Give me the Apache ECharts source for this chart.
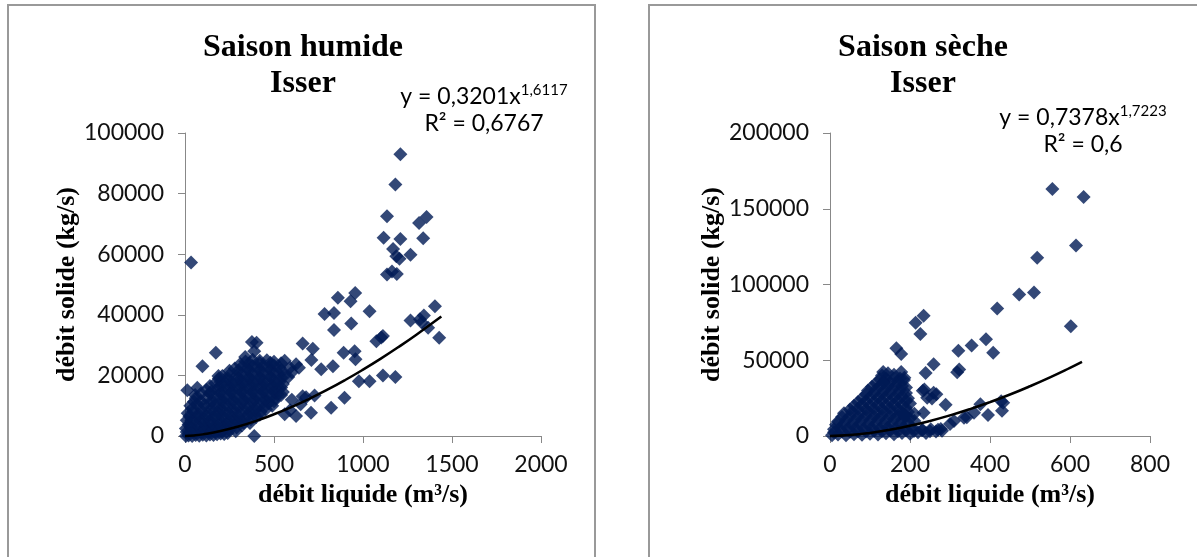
<!DOCTYPE html>
<html>
<head>
<meta charset="utf-8">
<title>Isser - débit solide / débit liquide</title>
<script src="https://cdn.jsdelivr.net/npm/echarts@6/dist/echarts.min.js"></script>
<style>
  html, body { margin: 0; padding: 0; background: #fff; }
  #chart { width: 1197px; height: 557px; }
</style>
</head>
<body>
<div id="chart"></div>
<script>
// Saison humide : [débit liquide (m3/s), débit solide (kg/s)]
var humideIsoles = [
  [1210, 93000], [1182, 83000], [1135, 72500], [1357, 72300], [1315, 70300],
  [1116, 65400], [1210, 65000], [1338, 65300], [1169, 61700], [1187, 59300],
  [1205, 58500], [1267, 59800], [1135, 53300], [1163, 54300], [1190, 53500],
  [34, 57300], [1404, 42800], [1267, 38100], [1320, 38500], [1342, 39800],
  [1366, 35700], [1330, 37500], [1428, 32400], [956, 47200], [930, 44500],
  [859, 45600], [784, 40300], [837, 40600], [1037, 41200], [934, 37100],
  [837, 35000], [953, 28000], [958, 25300], [891, 27500], [1075, 31300],
  [1112, 33000], [1103, 32500], [661, 30500], [718, 28800], [710, 25100],
  [765, 22000], [831, 23000], [977, 18100], [1037, 18100], [1112, 20000],
  [1182, 19500], [896, 12650], [821, 9360], [708, 7700], [728, 13400],
  [661, 13100], [173, 27500], [98, 23000], [188, 19800], [13, 15100],
  [69, 15900], [57, 13500], [338, 26100], [376, 31000], [402, 30800],
  [389, 28000], [389, 0], [624, 23700], [600, 21000], [640, 22500],
  [560, 24800], [580, 19500], [560, 7200], [624, 6600], [590, 8500],
  [650, 10500], [680, 12800], [600, 12000], [540, 13500]
];
var humideNuage = [
  [5, 0], [20, 200], [40, 0], [60, 300], [80, 100], [100, 400], [120, 200], [140, 500],
  [160, 300], [180, 600], [200, 800], [220, 700], [240, 1000],
  [10, 1300], [45, 1500], [90, 1400], [130, 1600], [170, 1500], [210, 1800], [250, 2000], [285, 1600],
  [5, 2500], [30, 3000], [55, 2200], [80, 2800], [105, 2500], [130, 3000], [155, 2600],
  [180, 3200], [205, 2900], [230, 3300], [260, 3500], [290, 2800], [320, 3500],
  [20, 3800], [65, 4000], [110, 3900], [150, 4100], [195, 4000], [240, 4300], [290, 4500],
  [330, 4400], [365, 4300],
  [10, 5200], [35, 5000], [60, 5500], [90, 5000], [115, 5400], [140, 5000], [170, 5600],
  [195, 5200], [225, 5700], [250, 5300], [280, 5800], [310, 5200], [340, 6000],
  [370, 5500], [400, 6300],
  [25, 6500], [70, 6400], [120, 6600], [165, 6500], [210, 6800], [260, 6700], [300, 6500],
  [355, 7000], [390, 7300], [420, 7000],
  [15, 7500], [45, 8000], [75, 7200], [100, 7800], [130, 7400], [160, 8000], [190, 7600],
  [215, 8200], [245, 7700], [275, 8300], [305, 7800], [335, 8400], [365, 7900],
  [395, 8600], [425, 8000], [455, 8800],
  [40, 9000], [90, 9000], [150, 9200], [200, 9100], [250, 9300], [300, 9200], [350, 9400],
  [400, 9500], [450, 9800], [490, 10000],
  [30, 10000], [70, 10500], [110, 10200], [140, 10600], [170, 10100], [200, 10700],
  [230, 10300], [260, 10900], [290, 10400], [320, 11000], [350, 10500], [380, 11100],
  [410, 10600], [440, 11200], [470, 10800], [500, 11500],
  [50, 11300], [90, 11500], [150, 11700], [210, 11800], [270, 11900], [330, 12000],
  [390, 12100], [450, 12200], [510, 12500],
  [60, 12500], [120, 12600], [160, 13000], [190, 12400], [220, 13100], [250, 12700],
  [280, 13300], [310, 12800], [340, 13400], [370, 12900], [400, 13500], [430, 13000],
  [460, 13600], [490, 13200], [520, 13800],
  [90, 14000], [140, 14200], [200, 14300], [260, 14400], [320, 14500], [380, 14600],
  [440, 14700], [500, 14800], [550, 14500],
  [120, 15200], [150, 14800], [180, 15400], [210, 15000], [240, 15600], [270, 15100],
  [300, 15700], [330, 15200], [360, 15800], [390, 15300], [420, 15900], [450, 15400],
  [480, 16000], [510, 15500], [540, 16000],
  [140, 16500], [200, 16700], [260, 16800], [320, 16900], [380, 17000], [440, 17000],
  [500, 17000], [550, 17200],
  [170, 17400], [200, 17800], [230, 17300], [260, 17900], [290, 17500], [320, 18000],
  [350, 17600], [380, 18100], [410, 17700], [440, 18200], [470, 17800], [500, 18300],
  [530, 17800],
  [190, 19000], [240, 19000], [300, 19200], [360, 19300], [420, 19300], [480, 19500],
  [540, 19200],
  [210, 19800], [250, 20200], [290, 19900], [320, 20400], [350, 20000], [380, 20500],
  [410, 20100], [440, 20600], [470, 20200], [500, 20800], [530, 20400], [560, 20000],
  [250, 21500], [300, 21600], [360, 21700], [420, 21800], [480, 21900], [540, 21800],
  [590, 22500],
  [280, 22300], [320, 22800], [350, 22400], [380, 23000], [410, 22500], [440, 23100],
  [470, 22700], [500, 23300], [530, 22600],
  [310, 23800], [360, 24000], [420, 24100], [480, 24200], [540, 24000],
  [340, 24600], [380, 25200], [420, 24800], [460, 25000], [500, 24500]
];
// courbe de tendance (y = 0,3201x^1,6117)
var humideTendX = [0, 50, 100, 200, 300, 400, 500, 600, 700, 800, 900, 1000, 1100, 1200, 1300, 1440];
var humideTendY = [0, 175, 536, 1636, 3147, 5003, 7166, 9613, 12323, 15283, 18478, 21900, 25535, 29380, 33430, 39400];

// Saison sèche
var secheIsoles = [
  [556, 163000], [634, 157700], [615, 125700], [518, 117700], [473, 93400],
  [510, 94800], [602, 72400], [418, 84100], [390, 63800], [354, 59800],
  [321, 56300], [408, 54900], [318, 42000], [323, 43900], [259, 47400],
  [239, 41600], [214, 74800], [234, 79400], [226, 67300], [166, 57900],
  [178, 54200], [133, 42300], [178, 42300], [185, 36900], [289, 20600],
  [376, 20900], [395, 13800], [428, 23000], [433, 22000], [430, 16700],
  [266, 27600], [232, 29900], [243, 25300], [255, 24800], [211, 14700],
  [187, 13500], [231, 4200], [270, 4200], [211, 9900], [252, 4400],
  [277, 4600], [310, 9900], [335, 12100], [360, 15400], [236, 30700],
  [259, 28500], [234, 15400], [182, 14300], [186, 38500], [134, 35100],
  [342, 12400], [300, 8000]
];
var secheNuage = [
  [5, 500], [20, 1000], [40, 500], [60, 1200], [80, 800], [100, 1500], [120, 1000],
  [140, 1800], [160, 1200], [180, 2000], [200, 1500], [220, 2500], [240, 2000], [265, 3000],
  [10, 2500], [30, 3000], [50, 2800], [70, 3200], [90, 3000], [110, 3300], [130, 3200],
  [150, 3500], [170, 3200], [190, 3600], [210, 3300], [230, 3800], [250, 3200], [280, 3500],
  [10, 4500], [25, 5500], [45, 5000], [65, 5500], [85, 4800], [105, 5600], [125, 5000],
  [145, 5800], [165, 5200], [185, 6000], [205, 5400],
  [15, 7500], [35, 7800], [55, 7500], [75, 8000], [95, 7600], [115, 8200], [135, 7800],
  [155, 8300], [175, 8000], [195, 8500],
  [20, 9500], [40, 10500], [60, 10000], [80, 10800], [100, 10200], [120, 11000],
  [140, 10400], [160, 11200], [180, 10600], [200, 11500],
  [30, 12500], [50, 13000], [70, 12600], [90, 13200], [110, 12800], [130, 13400],
  [150, 13000], [170, 13500], [190, 13200],
  [35, 15000], [55, 15800], [75, 15200], [95, 16000], [115, 15400], [135, 16200],
  [155, 15600], [175, 16400], [195, 15800],
  [50, 17500], [70, 18000], [90, 17600], [110, 18200], [130, 17800], [150, 18400],
  [170, 18000], [190, 18500],
  [60, 20000], [80, 20800], [100, 20200], [120, 21000], [140, 20400], [160, 21200],
  [180, 20600], [200, 21500],
  [70, 22500], [90, 23000], [110, 22600], [130, 23200], [150, 22800], [170, 23400],
  [190, 23000],
  [80, 25000], [100, 25800], [120, 25200], [140, 26000], [160, 25400], [180, 26200],
  [195, 25000],
  [90, 27500], [110, 28000], [130, 27600], [150, 28200], [170, 27800], [190, 28400],
  [95, 30000], [115, 30800], [135, 30200], [155, 31000], [175, 30400], [190, 32000],
  [105, 32500], [125, 33000], [145, 32600], [165, 33200], [180, 33000],
  [115, 35000], [135, 35800], [150, 35200], [170, 36000],
  [125, 37500], [140, 38000], [160, 38200], [175, 38000],
  [130, 40000], [145, 41500], [160, 40500]
];
// courbe de tendance (y = 0,7378x^1,7223)
var secheTendX = [0, 50, 100, 150, 200, 250, 300, 350, 400, 450, 500, 550, 600, 630];
var secheTendY = [0, 622, 2054, 4130, 6777, 9953, 13625, 17765, 22360, 27380, 32840, 38690, 44950, 48890];

var couleurPoint = '#001a55';
var policeChiffres = 'Lato, "Open Sans", sans-serif';
var policeTitres = '"Liberation Serif", "DejaVu Serif", serif';

function paires(xs, ys) {
  return xs.map(function (x, i) { return [x, ys[i]]; });
}

function sansSeparateur(v) {
  return String(v);
}

function axeX(grid, max, interval) {
  return {
    gridIndex: grid, type: 'value', min: 0, max: max, interval: interval,
    name: 'débit liquide (m³/s)', nameLocation: 'middle', nameGap: 46,
    nameTextStyle: { fontFamily: policeTitres, fontWeight: 'bold', fontSize: 26, color: '#000' },
    axisLine: { show: true, onZero: false, lineStyle: { color: '#888', width: 1 } },
    axisTick: { show: true, inside: false, length: 7, lineStyle: { color: '#888' } },
    axisLabel: { fontFamily: policeChiffres, fontSize: 23, color: '#111', margin: 17, formatter: sansSeparateur },
    splitLine: { show: false }
  };
}

function axeY(grid, max, interval) {
  return {
    gridIndex: grid, type: 'value', min: 0, max: max, interval: interval,
    name: 'débit solide (kg/s)', nameLocation: 'middle', nameGap: 105,
    nameTextStyle: { fontFamily: policeTitres, fontWeight: 'bold', fontSize: 26, color: '#000' },
    axisLine: { show: true, onZero: false, lineStyle: { color: '#888', width: 1 } },
    axisTick: { show: true, inside: false, length: 7, lineStyle: { color: '#888' } },
    axisLabel: { fontFamily: policeChiffres, fontSize: 23, color: '#111', margin: 21, formatter: sansSeparateur },
    splitLine: { show: false }
  };
}

function nuage(idx, data) {
  return {
    type: 'scatter', xAxisIndex: idx, yAxisIndex: idx, data: data,
    symbol: 'diamond', symbolSize: 14, clip: false,
    itemStyle: { color: couleurPoint }, z: 2
  };
}

function tendance(idx, data) {
  return {
    type: 'line', xAxisIndex: idx, yAxisIndex: idx, data: data,
    smooth: true, showSymbol: false, clip: false,
    lineStyle: { color: '#000', width: 2.5 }, z: 5
  };
}

function texteTitre(x, y, t) {
  return {
    type: 'text', x: x, y: y,
    style: { text: t, fontFamily: policeTitres, fontWeight: 'bold', fontSize: 32,
      fill: '#000', align: 'center', verticalAlign: 'middle' }
  };
}

function equation(x, y, coef, expo, r2) {
  return {
    type: 'text', x: x, y: y,
    style: {
      text: '{a|y = ' + coef + 'x}{b|' + expo + '}\n{a|R² = ' + r2 + '}',
      align: 'center', verticalAlign: 'top', fill: '#000',
      rich: {
        a: { fontFamily: policeChiffres, fontSize: 23, lineHeight: 27, fill: '#000' },
        b: { fontFamily: policeChiffres, fontSize: 15, lineHeight: 27, verticalAlign: 'top', padding: [0, 0, 10, 0], fill: '#000' }
      }
    }
  };
}

var chart = echarts.init(document.getElementById('chart'), null, { renderer: 'canvas' });

chart.setOption({
  animation: false,
  backgroundColor: '#fff',
  grid: [
    { left: 185, top: 133, width: 356, height: 303 },
    { left: 830, top: 133, width: 320, height: 303 }
  ],
  xAxis: [axeX(0, 2000, 500), axeX(1, 800, 200)],
  yAxis: [axeY(0, 100000, 20000), axeY(1, 200000, 50000)],
  graphic: [
    { type: 'rect', shape: { x: 8, y: 5, width: 587, height: 600 },
      style: { fill: 'none', stroke: '#999', lineWidth: 2 } },
    { type: 'rect', shape: { x: 649, y: 5, width: 600, height: 600 },
      style: { fill: 'none', stroke: '#999', lineWidth: 2 } },
    texteTitre(303, 48, 'Saison humide'),
    texteTitre(303, 84, 'Isser'),
    texteTitre(923, 48, 'Saison sèche'),
    texteTitre(923, 84, 'Isser'),
    equation(484, 83, '0,3201', '1,6117', '0,6767'),
    equation(1083, 104, '0,7378', '1,7223', '0,6')
  ],
  series: [
    nuage(0, humideNuage.concat(humideIsoles)),
    tendance(0, paires(humideTendX, humideTendY)),
    nuage(1, secheNuage.concat(secheIsoles)),
    tendance(1, paires(secheTendX, secheTendY))
  ]
});
</script>
</body>
</html>
